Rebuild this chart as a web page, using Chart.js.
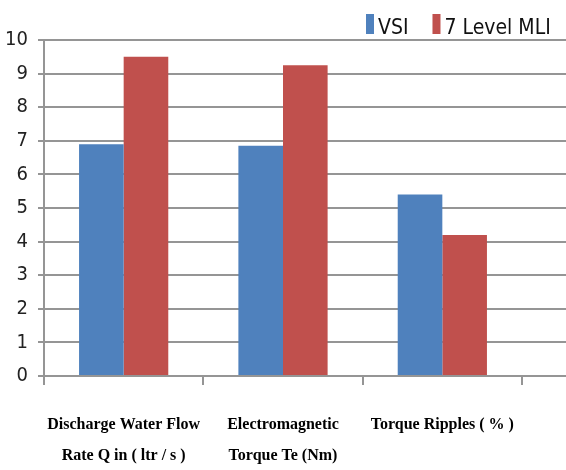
<!DOCTYPE html>
<html>
<head>
<meta charset="utf-8">
<script src="https://cdn.jsdelivr.net/npm/chart.js@4/dist/chart.umd.min.js"></script>
<style>
  html, body { margin: 0; padding: 0; background: #fff; }
  #wrap { width: 566px; height: 470px; position: relative; }
</style>
</head>
<body>
<div id="wrap"><canvas id="c" width="566" height="470"></canvas></div>
<script>
// Categories (two-line axis labels) and the two series
const categories = [
  ['Discharge Water Flow', 'Rate Q in ( ltr / s )'],
  ['Electromagnetic', 'Torque Te (Nm)'],
  ['Torque Ripples ( % )']
];
const vsiValues = [6.9, 6.85, 5.4];
const mliValues = [9.5, 9.25, 4.2];
const seriesNames = ['VSI', '7 Level MLI'];
const yTicks = [0, 1, 2, 3, 4, 5, 6, 7, 8, 9, 10];

const BLUE = '#4F81BD';
const RED = '#C0504D';
const GRID = '#959595';
const NARROW = "'Liberation Sans Narrow', 'DejaVu Sans Condensed', 'Liberation Sans', sans-serif";

// Horizontal gridlines continue past the last category to the canvas edge
const gridExtend = {
  id: 'gridExtend',
  beforeDatasetsDraw(chart) {
    const ctx = chart.ctx, y = chart.scales.y, area = chart.chartArea;
    ctx.save();
    ctx.strokeStyle = GRID;
    ctx.lineWidth = 2;
    yTicks.forEach(v => {
      const py = Math.round(y.getPixelForValue(v));
      ctx.beginPath();
      ctx.moveTo(area.right, py);
      ctx.lineTo(chart.width, py);
      ctx.stroke();
    });
    ctx.restore();
  }
};

// Legend drawn in the top-right corner from the dataset labels and colours
const cornerLegend = {
  id: 'cornerLegend',
  afterDraw(chart) {
    const ctx = chart.ctx;
    ctx.save();
    ctx.font = '21px ' + NARROW;
    ctx.textBaseline = 'alphabetic';
    let x = 366;
    chart.data.datasets.forEach((ds) => {
      ctx.fillStyle = ds.backgroundColor;
      ctx.fillRect(x, 14, 8, 20);
      ctx.fillStyle = '#111';
      ctx.fillText(ds.label, x + 12, 34);
      x += 12 + ctx.measureText(ds.label).width + 24;
    });
    ctx.restore();
  }
};

new Chart(document.getElementById('c'), {
  type: 'bar',
  data: {
    labels: categories,
    datasets: [
      { label: seriesNames[0], data: vsiValues, backgroundColor: BLUE },
      { label: seriesNames[1], data: mliValues, backgroundColor: RED }
    ]
  },
  options: {
    responsive: false,
    animation: false,
    devicePixelRatio: 1,
    layout: { padding: { top: 40, right: 44, left: 0, bottom: 0 } },
    datasets: { bar: { categoryPercentage: 0.56, barPercentage: 1.0 } },
    plugins: {
      legend: { display: false },
      tooltip: { enabled: false }
    },
    scales: {
      x: {
        offset: true,
        grid: {
          display: true,
          offset: true,
          drawOnChartArea: false,
          drawTicks: true,
          tickLength: 9,
          color: GRID,
          lineWidth: 2
        },
        border: { display: true, color: GRID, width: 2 },
        ticks: {
          color: '#000',
          padding: 25,
          maxRotation: 0,
          autoSkip: false,
          font: { family: "'Liberation Serif', 'Times New Roman', serif", size: 16, weight: 'bold', lineHeight: 1.9 }
        },
        afterFit(s) { s.height = 94; }
      },
      y: {
        min: 0,
        max: 10,
        afterBuildTicks(s) { s.ticks = yTicks.map(v => ({ value: v })); },
        grid: {
          color: GRID,
          lineWidth: 2,
          drawTicks: true,
          tickLength: 6
        },
        border: { display: true, color: GRID, width: 2 },
        ticks: {
          color: '#222',
          padding: 10,
          font: { family: NARROW, size: 20 }
        },
        afterFit(s) { s.width = 44; }
      }
    }
  },
  plugins: [gridExtend, cornerLegend]
});
</script>
</body>
</html>
